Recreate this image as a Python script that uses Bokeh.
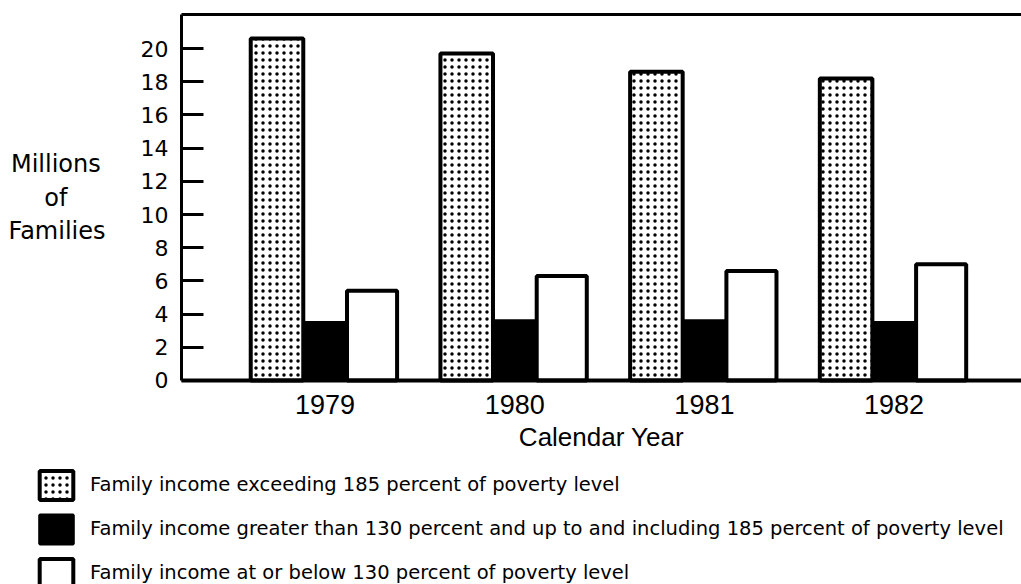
from bokeh.plotting import figure
from bokeh.models import Range1d, FixedTicker, LinearAxis, ColumnDataSource, Legend, LegendItem
from bokeh.transform import dodge
from bokeh.embed import file_html
from bokeh.resources import INLINE

# ---- data (millions of families) ----
years = ["1979", "1980", "1981", "1982"]
above_185 = [20.6, 19.7, 18.6, 18.2]
between_130_185 = [3.5, 3.6, 3.6, 3.5]
below_130 = [5.4, 6.3, 6.6, 7.0]
y_ticks = [0, 2, 4, 6, 8, 10, 12, 14, 16, 18, 20]
legend_labels = [
    "Family income exceeding 185 percent of poverty level",
    "Family income greater than 130 percent and up to and including 185 percent of poverty level",
    "Family income at or below 130 percent of poverty level",
]
# lines are right-aligned by Bokeh; non-breaking spaces centre them
y_title = "Millions\u2009\nof" + "\u00a0" * 5 + "\nFamilies"
x_title = "Calendar Year"

# plotting region limits (data units): bars area spans x in [X0, X1], y in [0, Y1]
X0, X1, Y1 = -0.756, 3.6716, 22.05

src = ColumnDataSource(dict(idx=list(range(len(years))), a=above_185, b=between_130_185, c=below_130))

p = figure(width=1021, height=584,
           x_range=Range1d(-1.7106, 3.6716), y_range=Range1d(-12.29, 22.893),
           output_backend="svg", toolbar_location=None,
           min_border_left=0, min_border_right=0, min_border_top=0, min_border_bottom=0)
p.background_fill_color = "white"
p.border_fill_color = "white"
p.outline_line_color = None
p.grid.visible = False

# bars
r1 = p.vbar(x=dodge("idx", -0.253, range=p.x_range), top="a", width=0.277, bottom=0, source=src,
            fill_color="white", line_color="black", line_width=4,
            hatch_pattern="dot", hatch_scale=7, hatch_weight=1.6, hatch_color="black")
r2 = p.vbar(x=dodge("idx", 0.0, range=p.x_range), top="b", width=0.227, bottom=0, source=src,
            fill_color="black", line_color="black", line_width=3)
r3 = p.vbar(x=dodge("idx", 0.248, range=p.x_range), top="c", width=0.264, bottom=0, source=src,
            fill_color="white", line_color="black", line_width=4)

# y axis (drawn at the left edge of the bar area)
ya = p.yaxis[0]
ya.fixed_location = X0
ya.bounds = (0, Y1)
ya.ticker = FixedTicker(ticks=y_ticks)
ya.axis_line_width = 3
ya.major_tick_in = 22
ya.major_tick_out = 0
ya.major_tick_line_width = 3
ya.minor_tick_line_color = None
ya.major_label_standoff = 13
ya.major_label_text_font = "DejaVu Sans"
ya.major_label_text_font_size = "22px"
ya.major_label_text_color = "black"
ya.axis_label = y_title
ya.axis_label_orientation = "horizontal"
ya.axis_label_standoff = 32
ya.axis_label_text_font = "DejaVu Sans"
ya.axis_label_text_font_size = "24px"
ya.axis_label_text_font_style = "normal"
ya.axis_label_text_color = "black"
ya.axis_label_text_line_height = 1.2

# x axis (drawn at zero)
xa = p.xaxis[0]
xa.fixed_location = 0
xa.bounds = (X0, X1)
xa.ticker = FixedTicker(ticks=list(range(len(years))))
xa.major_label_overrides = {i: y for i, y in enumerate(years)}
xa.axis_line_width = 4
xa.major_tick_in = 0
xa.major_tick_out = 0
xa.minor_tick_line_color = None
xa.major_label_standoff = 15
xa.major_label_text_font = "Liberation Sans"
xa.major_label_text_font_size = "27px"
xa.major_label_text_color = "black"
xa.axis_label = x_title
xa.axis_label_text_font = "Liberation Sans"
xa.axis_label_text_font_size = "26px"
xa.axis_label_text_font_style = "normal"
xa.axis_label_text_color = "black"
xa.axis_label_standoff = 4

# top frame line
top = LinearAxis(ticker=FixedTicker(ticks=[]), fixed_location=Y1, bounds=(X0, X1), axis_line_width=3,
                 major_tick_in=0, major_tick_out=0, minor_tick_in=0, minor_tick_out=0,
                 major_label_text_font_size="0px", major_label_standoff=0)
p.add_layout(top, "above")

# legend
legend = Legend(items=[LegendItem(label=t, renderers=[r]) for t, r in zip(legend_labels, [r1, r2, r3])],
                orientation="vertical", location=(35, -6.5),
                glyph_width=42, glyph_height=36, label_standoff=13, spacing=8,
                padding=0, margin=0, border_line_color=None, background_fill_alpha=0,
                label_text_font="DejaVu Sans", label_text_font_size="19.5px", label_text_color="black",
                label_height=36)
p.add_layout(legend, "center")

open("out.html", "w").write(file_html(p, INLINE))
